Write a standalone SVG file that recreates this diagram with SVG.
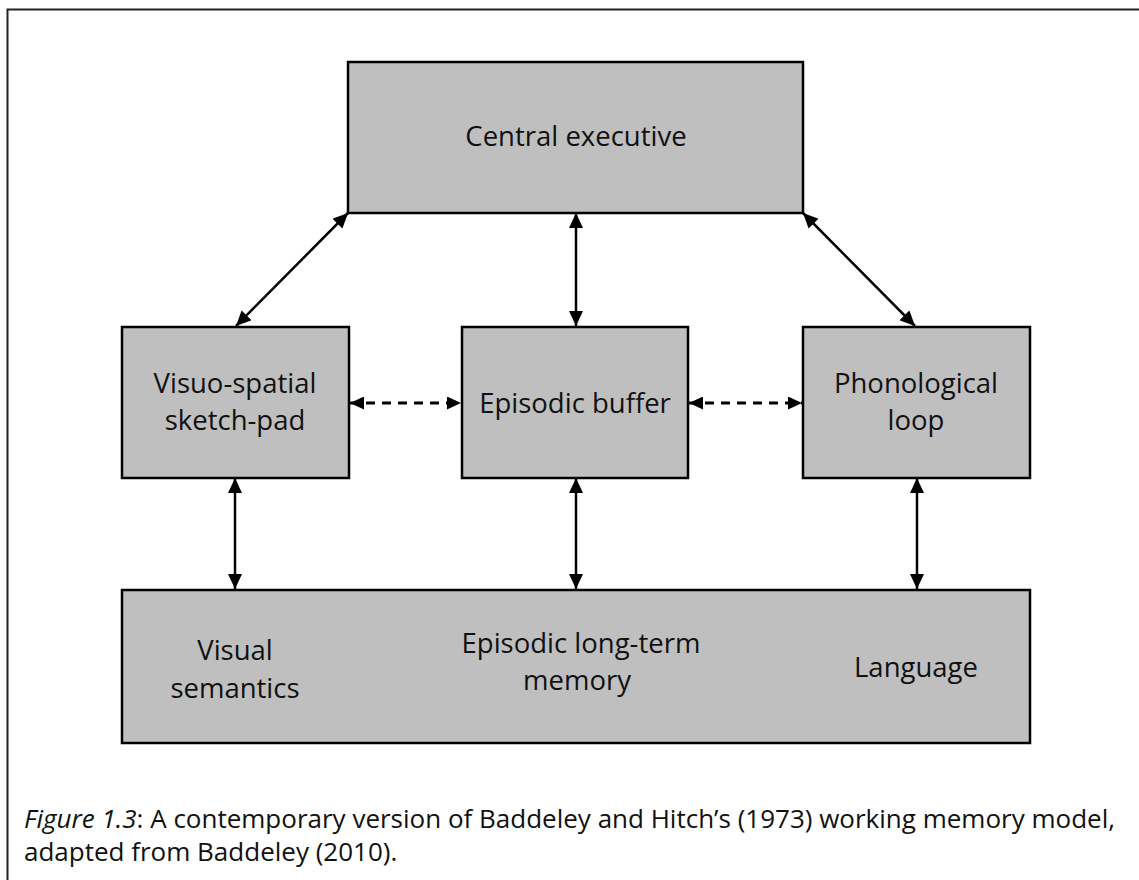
<svg xmlns="http://www.w3.org/2000/svg" width="1139" height="880" viewBox="0 0 1139 880">
<style>
.box{fill:#bfbfbf;stroke:#000;stroke-width:2.5}
.lbl{font-family:"Open Sans","Liberation Sans",sans-serif;font-size:27.5px;fill:#111;text-anchor:middle}
.cap{font-family:"Open Sans","Liberation Sans",sans-serif;font-size:26px;fill:#111}
.con{stroke:#000;stroke-width:2.5;fill:none;marker-start:url(#ah);marker-end:url(#ah)}
.dash{stroke:#000;stroke-width:2.8;fill:none;stroke-dasharray:9 7;marker-start:url(#ahs);marker-end:url(#ahs)}
</style>
<defs>
<marker id="ah" markerUnits="userSpaceOnUse" markerWidth="16" markerHeight="14" refX="15" refY="7" orient="auto-start-reverse" viewBox="0 0 16 14">
<path d="M0,0 L15,7 L0,14 z" fill="#000"/>
</marker>
<marker id="ahs" markerUnits="userSpaceOnUse" markerWidth="15" markerHeight="13" refX="14" refY="6.5" orient="auto-start-reverse" viewBox="0 0 15 13">
<path d="M0,0 L14,6.5 L0,13 z" fill="#000"/>
</marker>
</defs>
<rect x="0" y="0" width="1139" height="880" fill="#fff"/>
<rect x="7.5" y="9.5" width="1145" height="890" fill="none" stroke="#222" stroke-width="2"/>

<g id="connectors">
<line class="con" x1="348" y1="213" x2="236" y2="326"/>
<line class="con" x1="576" y1="213" x2="576" y2="326"/>
<line class="con" x1="803" y1="213" x2="915" y2="326"/>
<line class="dash" x1="350" y1="403" x2="461" y2="403"/>
<line class="dash" x1="689" y1="403" x2="802" y2="403"/>
<line class="con" x1="235" y1="478" x2="235" y2="589"/>
<line class="con" x1="576" y1="478" x2="576" y2="589"/>
<line class="con" x1="917" y1="478" x2="917" y2="589"/>
</g>

<g id="central-executive">
<rect class="box" x="348" y="62" width="455" height="151"/>
<text class="lbl" x="576" y="146">Central executive</text>
</g>

<g id="visuo-spatial">
<rect class="box" x="122" y="327" width="227" height="151"/>
<text class="lbl" x="235" y="393">Visuo-spatial</text>
<text class="lbl" x="235" y="430">sketch-pad</text>
</g>

<g id="episodic-buffer">
<rect class="box" x="462" y="327" width="226" height="151"/>
<text class="lbl" x="575" y="413">Episodic buffer</text>
</g>

<g id="phonological-loop">
<rect class="box" x="803" y="327" width="227" height="151"/>
<text class="lbl" x="916" y="393">Phonological</text>
<text class="lbl" x="916" y="430">loop</text>
</g>

<g id="long-term-memory">
<rect class="box" x="122" y="590" width="908" height="153"/>
<text class="lbl" x="235" y="660">Visual</text>
<text class="lbl" x="235" y="698">semantics</text>
<text class="lbl" x="581" y="653">Episodic long-term</text>
<text class="lbl" x="577" y="690">memory</text>
<text class="lbl" x="916" y="677">Language</text>
</g>

<g id="caption">
<text class="cap" x="24" y="828"><tspan font-style="italic">Figure 1.3</tspan>: A contemporary version of Baddeley and Hitch’s (1973) working memory model,</text>
<text class="cap" x="24" y="861">adapted from Baddeley (2010).</text>
</g>
</svg>
